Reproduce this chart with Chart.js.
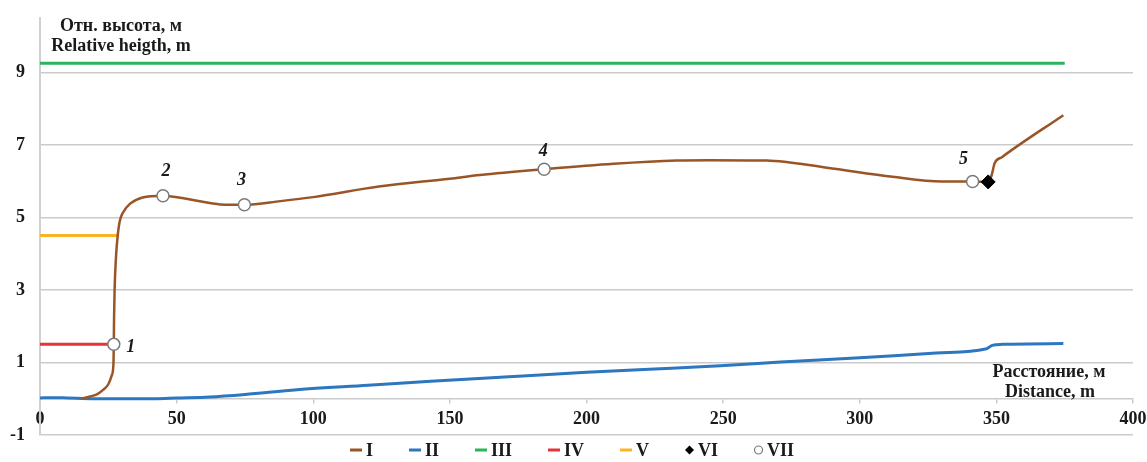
<!DOCTYPE html>
<html>
<head>
<meta charset="utf-8">
<script src="https://cdn.jsdelivr.net/npm/chart.js@4.4.1/dist/chart.umd.min.js"></script>
<style>
    body { margin: 0; background: #fff; }
    #wrap { width: 1147px; height: 462px; position: relative; }
</style>
</head>
<body>
<div id="wrap"><canvas id="profileChart"></canvas></div>
<script>
// I - ground profile
const profileX = [15, 18.3, 21, 23.2, 25, 26.3, 26.9, 27.0, 27.1, 27.3, 27.8, 28.4, 29.2, 30.5, 33, 37.5, 45, 56, 66, 74.8, 88, 100, 124, 150, 161, 184.5, 210, 233, 245, 266, 288, 312, 330, 341.3, 347, 348.2, 349.4, 352, 374.5];
const profileY = [0.0, 0.06, 0.13, 0.25, 0.4, 0.65, 1.0, 1.5, 2.2, 3.0, 3.9, 4.47, 4.9, 5.15, 5.38, 5.55, 5.6, 5.48, 5.36, 5.35, 5.45, 5.56, 5.85, 6.07, 6.17, 6.33, 6.48, 6.57, 6.58, 6.57, 6.37, 6.12, 5.99, 5.99, 5.98, 6.15, 6.5, 6.66, 7.82];
// II
const baseX = [0, 5, 10, 20, 30, 42, 50, 62, 75, 94, 120, 143, 170, 200, 225, 249, 271, 300, 328, 346, 348.5, 352, 374.5];
const baseY = [0.02, 0.03, 0.02, 0.0, 0.0, 0.0, 0.02, 0.05, 0.12, 0.25, 0.37, 0.48, 0.6, 0.73, 0.82, 0.91, 1.01, 1.13, 1.26, 1.37, 1.47, 1.5, 1.52];
// III, IV, V - levels
const levelIIIX = [0, 375];
const levelIIIY = [9.25, 9.25];
const levelIVX = [0, 27.0];
const levelIVY = [1.5, 1.5];
const levelVX = [0, 28.4];
const levelVY = [4.5, 4.5];
// VI, VII
const markVIX = [347];
const markVIY = [5.98];
const markVIIX = [27.0, 45, 74.8, 184.5, 341.3];
const markVIIY = [1.5, 5.6, 5.35, 6.33, 5.99];
const markVIILabels = ['1', '2', '3', '4', '5'];

const yTicks = [-1, 1, 3, 5, 7, 9];
const seriesNames = ['I', 'II', 'III', 'IV', 'V', 'VI', 'VII'];

const FONT = "'Liberation Serif', 'Times New Roman', serif";
const TEXT = '#1a1a1a';
const GRID = '#cbcbcb';

const toPoints = (xs, ys) => xs.map((x, i) => ({ x: x, y: ys[i] }));

const lineSet = (label, xs, ys, color, width, extra) => Object.assign({
    label: label,
    data: toPoints(xs, ys),
    borderColor: color,
    backgroundColor: color,
    borderWidth: width,
    pointRadius: 0,
    pointStyle: 'line',
    fill: false
}, extra || {});

// point numbers next to the VII markers
const labelOffsets = [[17, 3], [3, -24], [-3, -24], [-1, -18], [-9, -22]];

const textPlugin = {
    id: 'texts',
    afterDatasetsDraw(chart) {
        const ctx = chart.ctx;
        ctx.save();
        ctx.fillStyle = TEXT;
        ctx.textAlign = 'center';
        ctx.textBaseline = 'alphabetic';
        ctx.font = 'bold 18px ' + FONT;
        ctx.fillText('Отн. высота, м', 121, 31);
        ctx.fillText('Relative heigth, m', 121, 51);
        ctx.fillText('Расстояние, м', 1049, 377);
        ctx.fillText('Distance, m', 1050, 397);

        const meta = chart.getDatasetMeta(6);
        ctx.font = 'italic bold 18px ' + FONT;
        ctx.textBaseline = 'middle';
        meta.data.forEach((pt, i) => {
            const off = labelOffsets[i];
            ctx.fillText(markVIILabels[i], pt.x + off[0], pt.y + off[1]);
        });
        ctx.restore();
    },
    afterDraw(chart) {
        // legend along the bottom
        const ctx = chart.ctx;
        const sets = chart.data.datasets;
        ctx.save();
        ctx.font = 'bold 18px ' + FONT;
        const gap = 4, spacing = 36;
        const items = sets.map(ds => {
            const mw = ds.pointStyle === 'line' ? 12 : 9;
            return { ds: ds, mw: mw, tw: ctx.measureText(ds.label).width };
        });
        let total = 0;
        items.forEach((it, i) => { total += it.mw + gap + it.tw + (i ? spacing : 0); });
        let x = 572 - total / 2;
        const y = 450;
        items.forEach(it => {
            const ds = it.ds;
            if (ds.pointStyle === 'line') {
                ctx.strokeStyle = ds.borderColor;
                ctx.lineWidth = 3;
                ctx.beginPath();
                ctx.moveTo(x, y);
                ctx.lineTo(x + it.mw, y);
                ctx.stroke();
            } else if (ds.pointStyle === 'rectRot') {
                ctx.fillStyle = '#000';
                ctx.beginPath();
                ctx.moveTo(x + 4.5, y - 4.5);
                ctx.lineTo(x + 9, y);
                ctx.lineTo(x + 4.5, y + 4.5);
                ctx.lineTo(x, y);
                ctx.closePath();
                ctx.fill();
            } else {
                ctx.fillStyle = '#fff';
                ctx.strokeStyle = '#777';
                ctx.lineWidth = 1.2;
                ctx.beginPath();
                ctx.arc(x + 4.5, y, 4, 0, Math.PI * 2);
                ctx.fill();
                ctx.stroke();
            }
            x += it.mw + gap;
            ctx.fillStyle = TEXT;
            ctx.textAlign = 'left';
            ctx.textBaseline = 'middle';
            ctx.fillText(ds.label, x, y + 1);
            x += it.tw + spacing;
        });
        ctx.restore();
    }
};

const initChart = () => {
    const ctx = document.getElementById('profileChart').getContext('2d');

    new Chart(ctx, {
        type: 'line',
        data: {
            datasets: [
                lineSet(seriesNames[0], profileX, profileY, '#9a5526', 2.5, { cubicInterpolationMode: 'monotone' }),
                lineSet(seriesNames[1], baseX, baseY, '#2c77c0', 3, { cubicInterpolationMode: 'monotone' }),
                lineSet(seriesNames[2], levelIIIX, levelIIIY, '#2db35a', 3),
                lineSet(seriesNames[3], levelIVX, levelIVY, '#e5333a', 3),
                lineSet(seriesNames[4], levelVX, levelVY, '#fbb324', 3),
                {
                    label: seriesNames[5],
                    data: toPoints(markVIX, markVIY),
                    showLine: false,
                    pointStyle: 'rectRot',
                    pointRadius: 7,
                    backgroundColor: '#000',
                    borderColor: '#000',
                    borderWidth: 1,
                    order: -1
                },
                {
                    label: seriesNames[6],
                    data: toPoints(markVIIX, markVIIY),
                    showLine: false,
                    pointStyle: 'circle',
                    pointRadius: 6,
                    backgroundColor: '#fff',
                    borderColor: '#7a7a7a',
                    borderWidth: 1.5,
                    order: -1
                }
            ]
        },
        options: {
            responsive: true,
            maintainAspectRatio: false,
            animation: false,
            layout: { padding: { top: 18, right: 14, bottom: 27, left: 0 } },
            plugins: {
                legend: { display: false },
                tooltip: { enabled: false }
            },
            scales: {
                x: {
                    type: 'linear',
                    position: { y: 0 },
                    min: 0,
                    max: 400,
                    afterFit: (scale) => { scale.paddingLeft = 0; scale.paddingRight = 0; },
                    ticks: {
                        stepSize: 50,
                        padding: 6,
                        color: TEXT,
                        font: { family: FONT, size: 18, weight: 'bold' }
                    },
                    grid: { drawOnChartArea: false, drawTicks: true, tickLength: 4, color: GRID, lineWidth: 1.5 },
                    border: { color: GRID, width: 1.5 }
                },
                y: {
                    min: -1,
                    max: 10.5,
                    afterBuildTicks: (scale) => {
                        scale.ticks = yTicks.map(v => ({ value: v }));
                    },
                    afterFit: (scale) => {
                        scale.width = 40;
                        scale.paddingTop = 0;
                        scale.paddingBottom = 0;
                    },
                    ticks: {
                        padding: 15,
                        color: TEXT,
                        font: { family: FONT, size: 18, weight: 'bold' }
                    },
                    grid: { drawTicks: false, color: GRID, lineWidth: 1.5 },
                    border: { color: '#d0d0d0', width: 2 }
                }
            }
        },
        plugins: [textPlugin]
    });
};

document.addEventListener('DOMContentLoaded', initChart);
</script>
</body>
</html>
